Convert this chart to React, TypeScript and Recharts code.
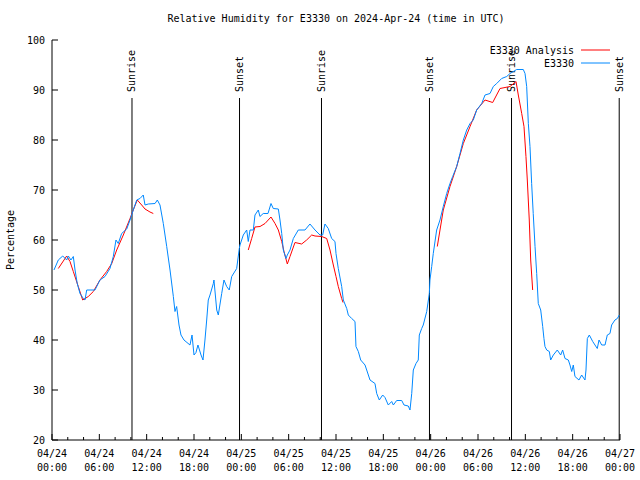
import React from 'react';
import { LineChart, Line, XAxis, YAxis, ReferenceLine } from 'recharts';

const TITLE = 'Relative Humidity for E3330 on 2024-Apr-24 (time in UTC)';
const Y_LABEL = 'Percentage';
const NAME_ANALYSIS = 'E3330 Analysis';
const NAME_OBS = 'E3330';

// hours since 04/24 00:00 UTC
const X_TICKS = [0, 2, 4, 6, 8, 10, 12, 14, 16, 18, 20, 22, 24, 26, 28, 30, 32, 34, 36, 38, 40, 42, 44, 46, 48, 50, 52, 54, 56, 58, 60, 62, 64, 66, 68, 70, 72];
const MAJOR_HOURS = [0, 6, 12, 18, 24, 30, 36, 42, 48, 54, 60, 66, 72];
const MAJOR_DATES = ['04/24', '04/24', '04/24', '04/24', '04/25', '04/25', '04/25', '04/25', '04/26', '04/26', '04/26', '04/26', '04/27'];
const MAJOR_TIMES = ['00:00', '06:00', '12:00', '18:00', '00:00', '06:00', '12:00', '18:00', '00:00', '06:00', '12:00', '18:00', '00:00'];
const Y_TICKS = [20, 30, 40, 50, 60, 70, 80, 90, 100];

const SUN_HOURS = [10.14, 23.77, 34.16, 47.85, 58.25, 71.9];
const SUN_LABELS = ['Sunrise', 'Sunset', 'Sunrise', 'Sunset', 'Sunrise', 'Sunset'];

const OBS_HOURS = [
  0.25, 0.8, 1.36, 1.86, 2.07, 2.4, 2.7, 2.92, 3.2, 3.55, 3.97, 4.18, 4.4, 5.45, 6.08, 6.72, 7.35, 7.77, 8.11, 8.4,
  8.83, 9.47, 9.89, 10.3, 10.74, 11.15, 11.57, 11.79, 12.21, 13.06, 13.35, 13.69, 14.11, 14.54, 14.96, 15.38, 15.59, 15.8, 16.1, 16.35,
  16.73, 17.11, 17.49, 17.75, 18.0, 18.25, 18.5, 18.89, 19.14, 19.39, 19.61, 19.81, 20.03, 20.45, 20.53, 20.88, 21.08, 21.51, 21.8, 22.14,
  22.47, 22.78, 23.41, 23.74, 23.83, 24.25, 24.68, 24.88, 25.1, 25.52, 25.73, 26.15, 26.36, 26.78, 27.38, 27.76, 28.05, 28.69, 28.9, 29.12,
  29.32, 29.66, 29.83, 30.17, 30.59, 31.22, 32.07, 32.7, 33.34, 33.97, 34.31, 34.6, 35.02, 35.45, 35.87, 36.0, 36.29, 36.72, 36.93, 37.36,
  37.56, 37.99, 38.41, 38.53, 38.83, 39.13, 39.68, 39.89, 40.31, 40.94, 41.16, 41.49, 41.92, 42.21, 42.63, 43.06, 43.27, 43.69, 44.33, 44.62,
  45.16, 45.38, 45.6, 45.8, 46.14, 46.43, 46.56, 46.86, 47.06, 47.5, 47.83, 47.91, 48.13, 48.33, 48.76, 49.18, 49.6, 50.03, 50.45, 50.79,
  51.3, 51.72, 52.14, 52.57, 52.99, 53.4, 53.83, 54.47, 54.89, 55.52, 55.94, 56.37, 57.0, 57.64, 58.06, 58.69, 58.9, 59.74, 59.96, 60.17,
  60.38, 60.59, 60.8, 61.0, 61.23, 61.44, 61.64, 61.95, 62.2, 62.36, 62.49, 62.71, 63.04, 63.21, 63.55, 64.05, 64.48, 64.73, 65.03, 65.45,
  65.66, 65.88, 66.08, 66.29, 66.8, 67.14, 67.56, 67.69, 67.86, 68.11, 68.54, 68.83, 69.12, 69.34, 69.68, 70.1, 70.39, 70.73, 70.94, 71.36,
  71.66, 71.91,
];
const OBS_VALUES = [
  54, 56, 56.8, 56, 56.8, 56, 56.7, 54, 51.3, 49.3, 48.3, 48, 50, 50, 52, 52.7, 54.3, 56.7, 60, 59.3,
  61.3, 62.2, 64, 66, 68, 68.3, 69, 67, 67.2, 67.3, 68, 67, 63.3, 58.7, 54, 48.7, 45.7, 46.7, 43, 41,
  40, 39.5, 39, 41, 37, 37.5, 39, 37, 36, 40, 44, 48, 49, 51.3, 52, 46, 45, 49.3, 52, 50.7,
  50, 52.7, 54.3, 58.3, 59, 61, 62, 59.7, 62, 62, 65, 66, 64.7, 65.3, 65.3, 67.3, 66.3, 66.2, 64, 61.3,
  58, 56.3, 57, 58, 60.3, 62, 62, 63.2, 62, 61, 61, 63.2, 62.3, 60.3, 59.7, 57.3, 54.3, 50.7, 48, 46.3,
  45, 44.3, 43.7, 38.7, 37.7, 36, 35, 34, 32, 31.3, 29.3, 28, 29, 28.5, 27, 27.7, 27, 27.9, 27.9, 27,
  26.8, 26, 29.3, 34, 35.3, 36, 41, 42.3, 43, 45.7, 49.3, 52, 54.7, 57.3, 62, 64, 66.7, 69.3, 71.3, 72.7,
  74.7, 77.3, 80, 82, 83.3, 84, 86, 87.3, 89, 89.3, 90.7, 91.3, 92.3, 92.7, 93.3, 93.9, 94.1, 94.1, 93.3, 90.7,
  83.3, 78.7, 71.3, 65.3, 58.7, 53.3, 47.3, 46, 42.7, 40.3, 38.7, 38, 37.7, 36, 37, 38, 37, 38, 36.3, 36,
  35, 33.7, 35, 32.7, 32, 33, 32, 34, 40.3, 41, 39.7, 39, 38.3, 40, 39, 39, 41, 41.3, 43, 44,
  44.3, 45,
];

const ANALYSIS_HOURS = [
  0.8, 1.86, 2.28, 2.7, 3.33, 3.89, 4.6, 5.24, 6.08, 6.93, 7.57, 8.2, 9.04, 9.89, 10.3, 10.81, 11.37, 11.79, 12.42, 12.84,
  18,
  24.88, 25.31, 25.73, 26.37, 27.0, 27.76, 28.27, 28.69, 29.12, 29.41, 29.83, 30.17, 30.8, 31.65, 32.28, 32.92, 33.34, 34.19, 34.82, 35.24,
  35.66, 36.0, 36.29, 36.72, 36.89,
  42,
  48.84, 49.6, 50.45, 51.3, 52.14, 52.99, 53.83, 54.89, 55.86, 56.79, 58.06, 58.82, 59.11, 59.54, 59.83, 60.08, 60.25, 60.5, 60.68, 60.93,
];
const ANALYSIS_VALUES = [
  54.3, 56.8, 55.7, 53.7, 50.7, 48, 48.7, 49.7, 52, 53.7, 55.3, 58, 61, 64.3, 66, 68, 67, 66.2, 65.6, 65.3,
  null,
  58, 60.3, 62.6, 62.7, 63.3, 64.6, 63.3, 62, 59.7, 57.7, 55.2, 56.7, 59.5, 59.2, 60, 61, 60.8, 60.7, 60.3, 58,
  55, 52.7, 50.7, 48.3, 47.5,
  null,
  58.7, 66, 70.7, 74.7, 79.3, 82.7, 86, 88, 87.5, 90.3, 90.7, 91.7, 89, 85.3, 82.7, 76.7, 72, 64, 56, 50,
];

const OBS_COLOR = '#0088ff';
const ANALYSIS_COLOR = '#ff0000';
const FONT = "'DejaVu Sans Mono', 'Liberation Mono', monospace";
const FS = 10;

const obsData = OBS_HOURS.map((h, i) => ({ h, v: OBS_VALUES[i] }));
const analysisData = ANALYSIS_HOURS.map((h, i) => ({ h, v: ANALYSIS_VALUES[i] }));

const BottomTick = (p: any) => {
  const { x, y, payload } = p;
  const idx = MAJOR_HOURS.indexOf(payload.value);
  const major = idx >= 0;
  return (
    <g>
      <line x1={x} x2={x} y1={y} y2={y - (major ? 6 : 3)} stroke="#000" strokeWidth={1} />
      {major && (
        <text x={x} y={y + 16.5} textAnchor="middle" fontSize={FS} fontFamily={FONT} fill="#000">
          {MAJOR_DATES[idx]}
        </text>
      )}
      {major && (
        <text x={x} y={y + 30.5} textAnchor="middle" fontSize={FS} fontFamily={FONT} fill="#000">
          {MAJOR_TIMES[idx]}
        </text>
      )}
    </g>
  );
};

const TopTick = (p: any) => {
  const { x, y, payload } = p;
  const major = MAJOR_HOURS.indexOf(payload.value) >= 0;
  return <line x1={x} x2={x} y1={y} y2={y + (major ? 6 : 3)} stroke="#000" strokeWidth={1} />;
};

const LeftTick = (p: any) => {
  const { x, y, payload } = p;
  return (
    <g>
      <line x1={x} x2={x + 6} y1={y} y2={y} stroke="#000" strokeWidth={1} />
      <text x={x - 7} y={y + 3.5} textAnchor="end" fontSize={FS} fontFamily={FONT} fill="#000">
        {payload.value}
      </text>
    </g>
  );
};

const RightTick = (p: any) => {
  const { x, y } = p;
  return <line x1={x} x2={x - 6} y1={y} y2={y} stroke="#000" strokeWidth={1} />;
};

const makeSunShape = (label: string) => (p: any) => {
  const { x1, y1, y2 } = p;
  const top = Math.min(y1, y2);
  const bottom = Math.max(y1, y2);
  const tx = x1 + 3.5;
  const ty = top + 52;
  return (
    <g>
      <line x1={x1} x2={x1} y1={top + 58} y2={bottom} stroke="#000" strokeWidth={1} />
      <text
        x={tx}
        y={ty}
        transform={`rotate(-90 ${tx} ${ty})`}
        textAnchor="start"
        fontSize={FS}
        fontFamily={FONT}
        fill="#000"
      >
        {label}
      </text>
    </g>
  );
};

export default function App() {
  return (
    <div style={{ position: 'absolute', left: 0, top: 0, width: 640, height: 480, background: '#fff' }}>
      <LineChart width={640} height={480} margin={{ top: 40, right: 20, bottom: 0, left: 0 }}>
        <XAxis
          xAxisId="b"
          type="number"
          dataKey="h"
          domain={[0, 72]}
          ticks={X_TICKS}
          interval={0}
          orientation="bottom"
          height={40}
          tickSize={0}
          tickMargin={0}
          tickLine={false}
          axisLine={{ stroke: '#000' }}
          tick={<BottomTick />}
          allowDataOverflow
        />
        <XAxis
          xAxisId="t"
          type="number"
          dataKey="h"
          domain={[0, 72]}
          ticks={X_TICKS}
          interval={0}
          orientation="top"
          height={0}
          tickSize={0}
          tickMargin={0}
          tickLine={false}
          axisLine={{ stroke: '#000' }}
          tick={<TopTick />}
          allowDataOverflow
        />
        <YAxis
          yAxisId="l"
          type="number"
          domain={[20, 100]}
          ticks={Y_TICKS}
          interval={0}
          width={52}
          tickSize={0}
          tickMargin={0}
          tickLine={false}
          axisLine={{ stroke: '#000' }}
          tick={<LeftTick />}
          allowDataOverflow
        />
        <YAxis
          yAxisId="r"
          orientation="right"
          type="number"
          domain={[20, 100]}
          ticks={Y_TICKS}
          interval={0}
          width={0}
          tickSize={0}
          tickMargin={0}
          tickLine={false}
          axisLine={{ stroke: '#000' }}
          tick={<RightTick />}
          allowDataOverflow
        />
        {SUN_HOURS.map((h, i) => (
          <ReferenceLine
            key={'sun' + i}
            xAxisId="b"
            yAxisId="l"
            x={h}
            stroke="#000"
            shape={makeSunShape(SUN_LABELS[i])}
          />
        ))}
        <Line
          xAxisId="b"
          yAxisId="l"
          data={analysisData}
          dataKey="v"
          name={NAME_ANALYSIS}
          type="linear"
          stroke={ANALYSIS_COLOR}
          strokeWidth={1}
          dot={false}
          activeDot={false}
          connectNulls={false}
          isAnimationActive={false}
        />
        <Line
          xAxisId="b"
          yAxisId="l"
          data={obsData}
          dataKey="v"
          name={NAME_OBS}
          type="linear"
          stroke={OBS_COLOR}
          strokeWidth={1}
          dot={false}
          activeDot={false}
          isAnimationActive={false}
        />
      </LineChart>
      <div
        style={{
          position: 'absolute',
          left: 52,
          width: 568,
          top: 13,
          textAlign: 'center',
          fontFamily: FONT,
          fontSize: FS,
          lineHeight: '12px',
          color: '#000',
          whiteSpace: 'pre',
        }}
      >
        {TITLE}
      </div>
      <div
        style={{
          position: 'absolute',
          left: 11,
          top: 240,
          transform: 'translate(-50%, -50%) rotate(-90deg)',
          fontFamily: FONT,
          fontSize: FS,
          lineHeight: '12px',
          color: '#000',
          whiteSpace: 'pre',
        }}
      >
        {Y_LABEL}
      </div>
      <svg style={{ position: 'absolute', left: 0, top: 0 }} width={640} height={480} pointerEvents="none">
        <text x={574} y={53.5} textAnchor="end" fontSize={FS} fontFamily={FONT} fill="#000">
          {NAME_ANALYSIS}
        </text>
        <line x1={581} x2={610} y1={50} y2={50} stroke={ANALYSIS_COLOR} strokeWidth={1} />
        <text x={574} y={66.5} textAnchor="end" fontSize={FS} fontFamily={FONT} fill="#000">
          {NAME_OBS}
        </text>
        <line x1={581} x2={610} y1={63} y2={63} stroke={OBS_COLOR} strokeWidth={1} />
      </svg>
    </div>
  );
}
